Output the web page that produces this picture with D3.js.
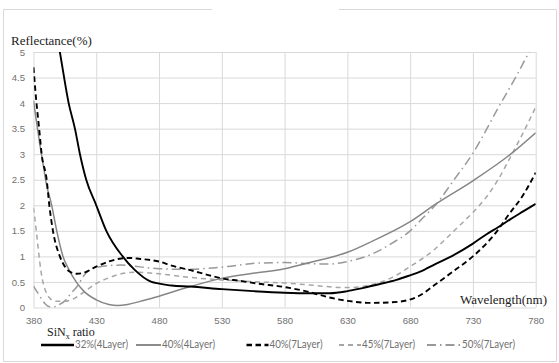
<!DOCTYPE html>
<html>
<head>
<meta charset="utf-8">
<script src="https://cdn.jsdelivr.net/npm/d3@7"></script>
<style>
  body { margin: 0; background: #fff; }
  svg { display: block; }
</style>
</head>
<body>
<svg id="chart"></svg>
<script>
// wavelength (nm) / reflectance (%)
const wl32 = [392, 396, 401, 408, 413, 417, 422, 430, 438, 451, 460, 474, 480, 490, 505, 530, 555, 580, 600, 616, 630, 642, 656, 669, 680, 688, 700, 715, 730, 740, 750, 760, 770, 780]
const r32 = [6.6, 5.7, 5.0, 4.0, 3.5, 3.0, 2.5, 2.0, 1.5, 1.0, 0.75, 0.5, 0.47, 0.43, 0.41, 0.36, 0.32, 0.29, 0.28, 0.28, 0.32, 0.38, 0.46, 0.54, 0.63, 0.7, 0.85, 1.03, 1.25, 1.42, 1.57, 1.73, 1.88, 2.03]

const wl40a = [380, 382, 385, 388, 390, 394.5, 398.5, 403.5, 408, 414, 420, 430, 440, 447, 455, 465, 473, 480, 490, 505, 530, 555, 580, 600, 630, 650, 680, 700, 730, 760, 780]
const r40a = [4.05, 3.7, 3.2, 2.75, 2.45, 2.0, 1.5, 1.0, 0.75, 0.5, 0.32, 0.15, 0.06, 0.04, 0.06, 0.12, 0.17, 0.22, 0.3, 0.41, 0.57, 0.67, 0.76, 0.88, 1.08, 1.3, 1.68, 2.02, 2.48, 3.0, 3.42]

const wl40b = [380, 382, 384.5, 386.5, 390.5, 392.6, 395.5, 401, 405, 409, 414.6, 420, 430, 440, 450, 457, 465, 473, 480, 490, 505, 520, 530, 545, 558, 580, 600, 615, 630, 650, 670, 688, 700, 715, 730, 750, 758, 770, 780]
const r40b = [4.7, 4.1, 3.5, 3.0, 2.5, 2.0, 1.5, 1.0, 0.8, 0.7, 0.66, 0.68, 0.8, 0.9, 0.96, 0.97, 0.95, 0.93, 0.9, 0.82, 0.73, 0.63, 0.57, 0.52, 0.47, 0.4, 0.3, 0.2, 0.13, 0.09, 0.11, 0.24, 0.45, 0.72, 1.0, 1.52, 1.8, 2.2, 2.64]

const wl45 = [380, 382, 384, 386, 388, 390, 393, 396, 400, 405, 410, 420, 430, 440, 450, 460, 470, 480, 500, 530, 560, 580, 600, 630, 650, 665, 680, 700, 710, 720, 730, 740, 750, 760, 770, 780]
const r45 = [1.95, 1.55, 1.1, 0.7, 0.45, 0.3, 0.18, 0.13, 0.12, 0.12, 0.15, 0.3, 0.47, 0.58, 0.66, 0.69, 0.68, 0.66, 0.6, 0.54, 0.5, 0.48, 0.44, 0.39, 0.45, 0.58, 0.8, 1.15, 1.38, 1.62, 1.86, 2.14, 2.5, 2.95, 3.42, 3.92]

const wl50 = [380, 383, 386, 389, 392, 395, 400, 405, 410, 415, 420, 425, 430, 440, 450, 460, 470, 480, 490, 505, 530, 560, 580, 600, 615, 630, 650, 665, 680, 690, 700, 715, 730, 750, 765, 780]
const r50 = [0.42, 0.3, 0.18, 0.08, 0.02, 0.0, 0.05, 0.13, 0.28, 0.42, 0.62, 0.74, 0.78, 0.82, 0.83, 0.81, 0.78, 0.76, 0.75, 0.75, 0.79, 0.87, 0.88, 0.86, 0.85, 0.9, 1.05, 1.25, 1.5, 1.75, 2.0, 2.5, 3.02, 3.9, 4.55, 5.25]

const seriesNames = ["32%(4Layer)", "40%(4Layer)", "40%(7Layer)", "45%(7Layer)", "50%(7Layer)"]
const xTicks = [380, 430, 480, 530, 580, 630, 680, 730, 780]
const yTicks = [0, 0.5, 1, 1.5, 2, 2.5, 3, 3.5, 4, 4.5, 5]

const W = 559, H = 363
const margin = { left: 33.5, right: 23.3, top: 52, bottom: 55.5 }

const svg = d3.select("#chart").attr("width", W).attr("height", H)
  .style("font-family", "Lato, sans-serif")

// frame (top edge is broken where the title used to be)
const frame = svg.append("g").attr("stroke", "#d9d9d9").attr("fill", "none")
frame.append("path").attr("d", "M212,9.5H3.5V361.5H556.5V9.5H339")

const x = d3.scaleLinear().domain([380, 780]).range([margin.left, W - margin.right])
const y = d3.scaleLinear().domain([0, 5]).range([H - margin.bottom, margin.top])

const gx = svg.append("g")
  .attr("transform", `translate(0,${y(0)})`)
  .call(d3.axisBottom(x).tickValues(xTicks).tickSize(-(y(0) - y(5))).tickPadding(9.8).tickFormat((d) => d))
const gy = svg.append("g")
  .attr("transform", `translate(${x(380)},0)`)
  .call(d3.axisLeft(y).tickValues(yTicks).tickSize(-(x(780) - x(380))).tickPadding(8.5).tickFormat((d) => d))

;[gx, gy].forEach((g) => {
  g.select(".domain").remove()
  g.selectAll(".tick line").attr("stroke", "#d9d9d9")
  g.selectAll(".tick text").attr("fill", "#707070").style("font-size", "9.6px")
})

svg.append("clipPath").attr("id", "plot")
  .append("rect")
  .attr("x", x(380)).attr("y", y(5))
  .attr("width", x(780) - x(380)).attr("height", y(0) - y(5))

const styles = [
  { color: "#000", width: 1.9, dash: null },
  { color: "#868686", width: 1.5, dash: null },
  { color: "#000", width: 1.9, dash: "5.5,3.5" },
  { color: "#a6a6a6", width: 1.5, dash: "5,4" },
  { color: "#999", width: 1.5, dash: "9,4,1.5,4" },
]

const lineData = [
  d3.zip(wl32, r32),
  d3.zip(wl40a, r40a),
  d3.zip(wl40b, r40b),
  d3.zip(wl45, r45),
  d3.zip(wl50, r50),
]

const line = d3.line()
  .x((d) => x(d[0]))
  .y((d) => y(d[1]))
  .curve(d3.curveMonotoneX)

const plot = svg.append("g").attr("clip-path", "url(#plot)")
// draw back to front so the black curves sit on top
;[4, 3, 1, 2, 0].forEach((i) => {
  plot.append("path")
    .attr("d", line(lineData[i]))
    .attr("fill", "none")
    .attr("stroke", styles[i].color)
    .attr("stroke-width", styles[i].width)
    .attr("stroke-dasharray", styles[i].dash)
})

// axis titles
const serif = "'Liberation Serif', serif"
svg.append("text")
  .attr("x", 11).attr("y", 45)
  .style("font-family", serif).style("font-size", "13px")
  .attr("fill", "#222")
  .text("Reflectance(%)")

svg.append("text")
  .attr("x", 547).attr("y", 303.5)
  .attr("text-anchor", "end")
  .style("font-family", serif).style("font-size", "13px")
  .attr("fill", "#222")
  .text("Wavelength(nm)")

// legend
const legTitle = svg.append("text")
  .attr("x", 47).attr("y", 336)
  .style("font-family", serif).style("font-size", "12px")
  .attr("fill", "#222")
legTitle.append("tspan").text("SiN")
legTitle.append("tspan").attr("dy", 2.5).style("font-size", "8px").text("x")
legTitle.append("tspan").attr("dy", -2.5).text(" ratio")

const legX = [41, 136, 246.5, 339, 427]
const legLen = [33, 25, 22, 22, 34]
const legend = svg.append("g")
seriesNames.forEach((name, i) => {
  const g = legend.append("g").attr("transform", `translate(${legX[i]},0)`)
  g.append("line")
    .attr("x1", 0).attr("x2", legLen[i])
    .attr("y1", 345).attr("y2", 345)
    .attr("stroke", styles[i].color)
    .attr("stroke-width", styles[i].width + 0.4)
    .attr("stroke-dasharray", styles[i].dash)
  g.append("text")
    .attr("x", legLen[i] + 1).attr("y", 348)
    .attr("fill", "#707070").style("font-size", "10.5px")
    .attr("textLength", 53).attr("lengthAdjust", "spacingAndGlyphs")
    .text(name)
})
</script>
</body>
</html>
